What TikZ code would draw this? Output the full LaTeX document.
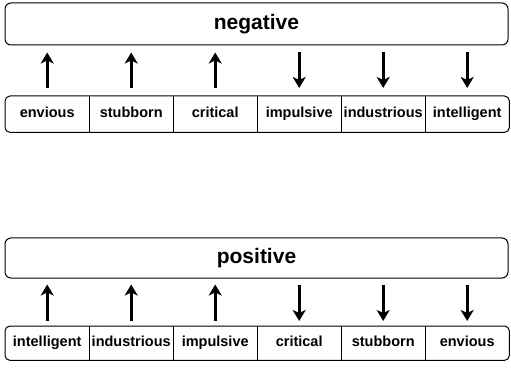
\documentclass[tikz,border=0pt]{standalone}
\usepackage{fontspec}
\setmainfont{Liberation Sans}
\usetikzlibrary{matrix,arrows.meta}

\begin{document}
\begin{tikzpicture}[x=1pt,y=1pt,
bar/.style={draw, line width=1pt, rounded corners=6pt, minimum width=503pt,
    inner sep=0pt, font=\bfseries\fontsize{21}{24}\selectfont},
array/.style={matrix of nodes, inner sep=0pt, anchor=north west, column sep=0pt,
    nodes={minimum width=84pt, minimum height=#1, inner sep=0pt, anchor=center,
    text height=10.5pt, text depth=3pt, font=\bfseries\fontsize{14.5}{16}\selectfont}},
trait/.style={line width=3.2pt, -{Stealth[length=11pt,width=13pt,inset=3pt]}}]
\useasboundingbox (0,0) rectangle (511,367);
% negative
\node[bar, minimum height=42pt] (neg) at (256.5,343) {negative};
\matrix[array=36pt] (negrow) at (5,271) {
envious & stubborn & critical & impulsive & industrious & intelligent\\};
\draw[line width=1pt, rounded corners=5pt] (negrow-1-1.north west) rectangle (negrow-1-6.south east);
\foreach \c in {1,...,5}
  \draw[line width=1pt] (negrow-1-\c.north east) -- (negrow-1-\c.south east);
\foreach \c in {1,2,3}
  \draw[trait, shorten <=8pt, shorten >=7pt] (negrow-1-\c.north) -- (negrow-1-\c.north |- neg.south);
\foreach \c in {4,5,6}
  \draw[trait, shorten <=7pt, shorten >=8pt] (negrow-1-\c.north |- neg.south) -- (negrow-1-\c.north);
% positive
\node[bar, minimum height=40pt] (pos) at (256.5,109) {positive};
\matrix[array=34pt] (posrow) at (5,41) {
intelligent & industrious & impulsive & critical & stubborn & envious\\};
\draw[line width=1pt, rounded corners=5pt] (posrow-1-1.north west) rectangle (posrow-1-6.south east);
\foreach \c in {1,...,5}
  \draw[line width=1pt] (posrow-1-\c.north east) -- (posrow-1-\c.south east);
\foreach \c in {1,2,3}
  \draw[trait, shorten <=5pt, shorten >=6pt] (posrow-1-\c.north) -- (posrow-1-\c.north |- pos.south);
\foreach \c in {4,5,6}
  \draw[trait, shorten <=6pt, shorten >=5pt] (posrow-1-\c.north |- pos.south) -- (posrow-1-\c.north);
\end{tikzpicture}
\end{document}
